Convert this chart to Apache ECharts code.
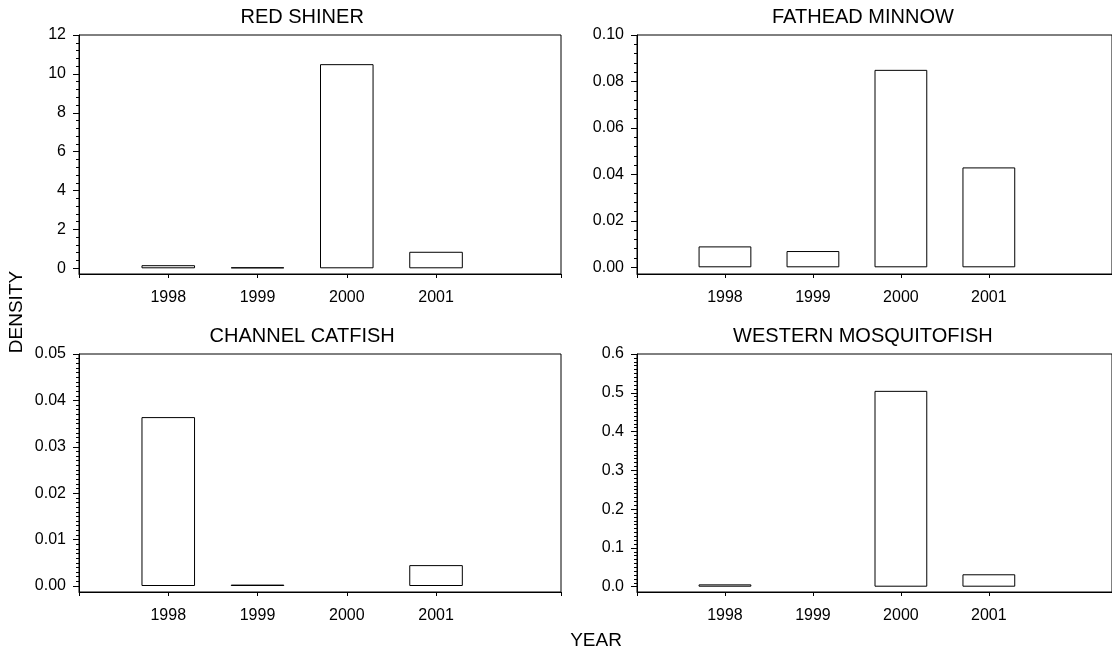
<!DOCTYPE html>
<html>
<head>
<meta charset="utf-8">
<script src="https://cdn.jsdelivr.net/npm/echarts@6/dist/echarts.min.js"></script>
<style>
html,body{margin:0;padding:0;background:#fff;}
#c{width:1112px;height:651px;}
</style>
</head>
<body>
<div id="c"></div>
<script>
// ---- data ----
const years = [1998, 1999, 2000, 2001];
const titles = ['RED SHINER', 'FATHEAD MINNOW', 'CHANNEL CATFISH', 'WESTERN MOSQUITOFISH'];
const redShiner = [0.16, 0.05, 10.5, 0.85];
const fatheadMinnow = [0.009, 0.007, 0.085, 0.043];
const channelCatfish = [0.0364, 0.0003, 0, 0.0045];
const westernMosquitofish = [0.006, 0, 0.505, 0.032];
const yTicks1 = [0, 2, 4, 6, 8, 10, 12];
const yTicks2 = [0.00, 0.02, 0.04, 0.06, 0.08, 0.10];
const yTicks3 = [0.00, 0.01, 0.02, 0.03, 0.04, 0.05];
const yTicks4 = [0.0, 0.1, 0.2, 0.3, 0.4, 0.5, 0.6];
const yDecimals = [0, 2, 2, 1];
const minorSplits = [5, 5, 10, 10];
const xLabel = 'YEAR';
const yLabel = 'DENSITY';

// ---- layout ----
const X_MIN = 1997, X_MAX = 2002.4;
const grids = [
  {left: 79, top: 35, width: 482, height: 239, gap: 5.7},
  {left: 637, top: 35, width: 488, height: 239, gap: 6.7},
  {left: 79, top: 354, width: 482, height: 238, gap: 6},
  {left: 637, top: 354, width: 488, height: 238, gap: 5.3}
];
const seriesVals = [redShiner, fatheadMinnow, channelCatfish, westernMosquitofish];
const yTicksAll = [yTicks1, yTicks2, yTicks3, yTicks4];
const FONT = '"Liberation Sans", Arial, sans-serif';

const option = {
  animation: false,
  backgroundColor: '#fff',
  grid: [], xAxis: [], yAxis: [], series: [], graphic: []
};

grids.forEach((g, i) => {
  const ticks = yTicksAll[i];
  const yMax = ticks[ticks.length - 1];
  const step = ticks[1] - ticks[0];
  const yMin = -yMax * g.gap / (g.height - g.gap);
  const minors = [];
  const n = minorSplits[i];
  for (let k = 0; k < ticks.length - 1; k++) {
    for (let j = 1; j < n; j++) minors.push(ticks[k] + step * j / n);
  }
  option.grid.push({left: g.left, top: g.top, width: g.width, height: g.height,
    show: true, borderColor: '#000', borderWidth: 1, backgroundColor: 'transparent', containLabel: false});
  option.xAxis.push({
    type: 'value', gridIndex: i, min: X_MIN, max: X_MAX, position: 'bottom',
    axisLine: {show: true, onZero: false, lineStyle: {color: '#000', width: 1}},
    axisTick: {show: true, length: 4, customValues: [X_MIN].concat(years, [X_MAX]), lineStyle: {color: '#000'}},
    axisLabel: {show: true, customValues: years, margin: 16, color: '#000', fontSize: 16, fontFamily: FONT,
      formatter: v => String(v)},
    splitLine: {show: false}
  });
  option.yAxis.push({
    type: 'value', gridIndex: i, min: yMin, max: yMax, position: 'left',
    axisLine: {show: true, onZero: false, lineStyle: {color: '#000', width: 1}},
    axisTick: {show: true, length: 6, customValues: ticks, lineStyle: {color: '#000'}},
    axisLabel: {show: true, customValues: ticks, margin: 13, color: '#000', fontSize: 16, fontFamily: FONT,
      formatter: v => Number(v).toFixed(yDecimals[i])},
    splitLine: {show: false}
  });
  option.yAxis.push({
    type: 'value', gridIndex: i, min: yMin, max: yMax, position: 'left',
    axisLine: {show: false, onZero: false},
    axisTick: {show: true, length: 3, customValues: minors, lineStyle: {color: '#000'}},
    axisLabel: {show: false},
    splitLine: {show: false}
  });
  option.series.push({
    type: 'bar', xAxisIndex: i, yAxisIndex: i * 2, barWidth: '60%',
    itemStyle: {color: '#fff', borderColor: '#000', borderWidth: 1},
    data: years.map((yr, k) => {
      const v = seriesVals[i][k];
      const item = {value: [yr, v]};
      if (v === 0) item.itemStyle = {borderWidth: 0};
      return item;
    })
  });
  // panel title centred over the middle of the year range
  const unit = g.width / (X_MAX - X_MIN);
  option.graphic.push({
    type: 'text', x: g.left + unit * ((X_MIN + 2002) / 2 - X_MIN), y: g.top - 18,
    style: {text: titles[i], fill: '#000', font: '20px ' + FONT, align: 'center', verticalAlign: 'middle'}
  });
});

option.graphic.push({
  type: 'text', x: 596, y: 641,
  style: {text: xLabel, fill: '#000', font: '19px ' + FONT, align: 'center', verticalAlign: 'middle'}
});
option.graphic.push({
  type: 'text', x: 17, y: 312, rotation: Math.PI / 2,
  style: {text: yLabel, fill: '#000', font: '19px ' + FONT, align: 'center', verticalAlign: 'middle'}
});

const chart = echarts.init(document.getElementById('c'), null, {renderer: 'canvas'});
chart.setOption(option);
</script>
</body>
</html>
